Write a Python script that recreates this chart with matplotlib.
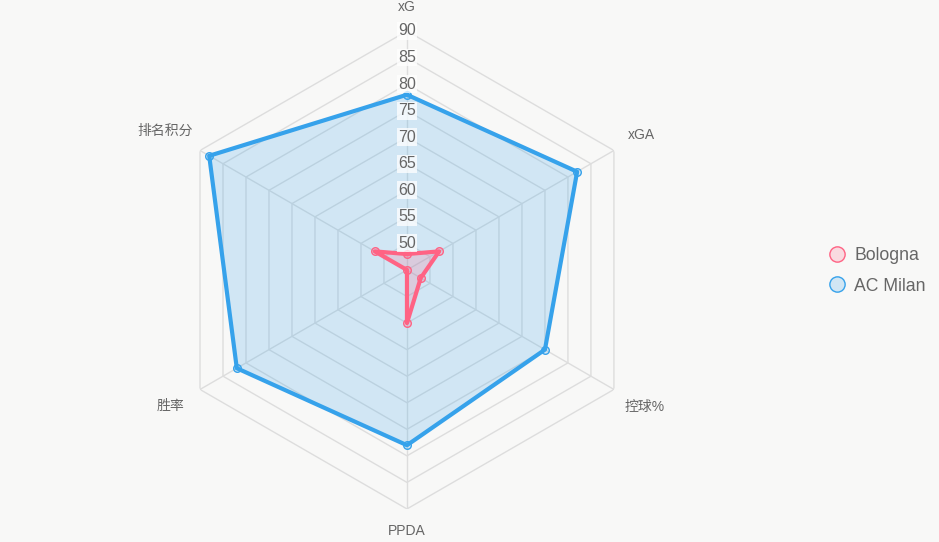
import numpy as np
import matplotlib
matplotlib.use("Agg")
import matplotlib.pyplot as plt
from matplotlib.lines import Line2D

plt.rcParams['font.family'] = ['Liberation Sans', 'Noto Sans CJK SC', 'DejaVu Sans']

# data
categories = ['xG', 'xGA', '控球%', 'PPDA', '胜率', '排名积分']
bologna = [48, 52, 48, 55, 45, 52]
milan = [78, 82, 75, 78, 82, 88]
ticks = [50, 55, 60, 65, 70, 75, 80, 85, 90]
r_min, r_max = 45, 90

# label radius per category (chart.js puts them just outside the last ring)
label_r = [94.6, 96, 96.6, 94.2, 96.3, 97.5]

bg = '#f8f8f7'
red = '#ff6384'
blue = '#36a2eb'
grid_c = '#dddddd'
text_c = '#666666'

fig = plt.figure(figsize=(9.39, 5.42), dpi=100, facecolor=bg)
ax = fig.add_axes([0.1789, 0.0609, 0.509, 0.882], projection='polar')
ax.set_facecolor('none')
ax.set_theta_zero_location('N')
ax.set_theta_direction(-1)
ax.set_ylim(r_min, r_max)
ax.grid(False)
ax.spines['polar'].set_visible(False)
ax.set_xticks([])
ax.set_yticks([])

n = len(categories)
theta = np.arange(n) * 2 * np.pi / n
theta_c = np.append(theta, theta[0])

# hexagon rings and spokes
for lv in ticks:
    ax.plot(theta_c, [lv] * (n + 1), color=grid_c, lw=1, zorder=1)
for t in theta:
    ax.plot([t, t], [r_min, r_max], color=grid_c, lw=1, zorder=1)

def draw(vals, col, z):
    v = np.append(vals, vals[0])
    ax.fill(theta_c, v, color=col, alpha=0.2, lw=0, zorder=z)
    ax.plot(theta_c, v, color=col, lw=3, zorder=z + 1)
    ax.scatter(theta, vals, s=30, facecolor=matplotlib.colors.to_rgba(col, 0.2),
               edgecolor=col, lw=1, zorder=z + 2)

draw(milan, blue, 2)
draw(bologna, red, 5)

# tick labels
for lv in ticks:
    ax.text(0, lv, str(lv), ha='center', va='center', fontsize=11.5, color=text_c,
            zorder=10, bbox=dict(facecolor='white', alpha=0.75, edgecolor='none', pad=1))

# category labels
for t, lab, r in zip(theta, categories, label_r):
    ax.text(t, r, lab, ha='center', va='center', fontsize=10, color=text_c, clip_on=False)

handles = [
    Line2D([], [], ls='none', marker='o', markersize=11,
           markerfacecolor=matplotlib.colors.to_rgba(red, 0.2), markeredgecolor=red, markeredgewidth=1),
    Line2D([], [], ls='none', marker='o', markersize=11,
           markerfacecolor=matplotlib.colors.to_rgba(blue, 0.2), markeredgecolor=blue, markeredgewidth=1),
]
fig.legend(handles, ['Bologna', 'AC Milan'], loc='center left', bbox_to_anchor=(0.873, 0.5),
           frameon=False, fontsize=12.7, labelcolor=text_c, handlelength=1.0, handletextpad=0.45,
           labelspacing=0.75, borderpad=0)

fig.savefig('out.png', dpi=100, facecolor=bg)
